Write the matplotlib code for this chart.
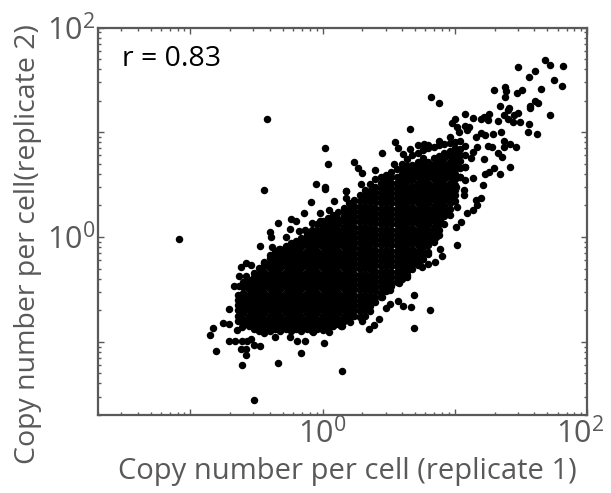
import numpy as np
import matplotlib
matplotlib.use("Agg")
import matplotlib.pyplot as plt
from matplotlib.ticker import LogLocator, NullFormatter
from matplotlib.transforms import ScaledTranslation

plt.rcParams['font.family'] = ['Open Sans', 'DejaVu Sans']
plt.rcParams['mathtext.default'] = 'regular'

# everything is read off the picture, in log10(copy number per cell)
# saturated middle of the cloud: replicate 1 value -> replicate 2 values
core = {
    -.64: [-.80,-.75,-.70,-.65,-.60,-.55],
    -.60: [-.83,-.78,-.73,-.68,-.63,-.58,-.53,-.48,-.43],
    -.56: [-.85,-.80,-.75,-.70,-.65,-.60,-.55,-.50,-.45,-.41],
    -.52: [-.88,-.83,-.78,-.73,-.68,-.63,-.58,-.53,-.48,-.43,-.38],
    -.48: [-.90,-.85,-.80,-.75,-.70,-.65,-.60,-.55,-.50,-.45,-.40,-.35,-.30],
    -.44: [-.88,-.83,-.78,-.73,-.68,-.63,-.58,-.53,-.48,-.43,-.38,-.33,-.28,-.24],
    -.40: [-.90,-.85,-.80,-.75,-.70,-.65,-.60,-.55,-.50,-.45,-.40,-.35,-.30,-.25,-.20,-.17],
    -.36: [-.88,-.83,-.78,-.73,-.68,-.63,-.58,-.53,-.48,-.43,-.38,-.33,-.28,-.23,-.18,-.14],
    -.32: [-.90,-.85,-.80,-.75,-.70,-.65,-.60,-.55,-.50,-.45,-.40,-.35,-.30,-.25,-.20,-.15,-.11],
    -.28: [-.88,-.83,-.78,-.73,-.68,-.63,-.58,-.53,-.48,-.43,-.38,-.33,-.28,-.23,-.18,-.13,-.09],
    -.24: [-.90,-.85,-.80,-.75,-.70,-.65,-.60,-.55,-.50,-.45,-.40,-.35,-.30,-.25,-.20,-.15,-.10,-.06],
    -.20: [-.88,-.83,-.78,-.73,-.68,-.63,-.58,-.53,-.48,-.43,-.38,-.33,-.28,-.23,-.18,-.13,-.08,-.04],
    -.16: [-.90,-.85,-.80,-.75,-.70,-.65,-.60,-.55,-.50,-.45,-.40,-.35,-.30,-.25,-.20,-.15,-.10,-.05,-.01],
    -.12: [-.88,-.83,-.78,-.73,-.68,-.63,-.58,-.53,-.48,-.43,-.38,-.33,-.28,-.23,-.18,-.13,-.08,-.03,.02],
    -.08: [-.90,-.85,-.80,-.75,-.70,-.65,-.60,-.55,-.50,-.45,-.40,-.35,-.30,-.25,-.20,-.15,-.10,-.05,.00,.05,.07],
    -.04: [-.88,-.83,-.78,-.73,-.68,-.63,-.58,-.53,-.48,-.43,-.38,-.33,-.28,-.23,-.18,-.13,-.08,-.03,.02,.07,.12],
    .00: [-.89,-.85,-.80,-.75,-.70,-.65,-.60,-.55,-.50,-.45,-.40,-.35,-.30,-.25,-.20,-.15,-.10,-.05,.00,.05,.10,.15],
    .04: [-.87,-.83,-.78,-.73,-.68,-.63,-.58,-.53,-.48,-.43,-.38,-.33,-.28,-.23,-.18,-.13,-.08,-.03,.02,.07,.12,.18],
    .08: [-.85,-.80,-.75,-.70,-.65,-.60,-.55,-.50,-.45,-.40,-.35,-.30,-.25,-.20,-.15,-.10,-.05,.00,.05,.10,.15,.21],
    .12: [-.83,-.78,-.73,-.68,-.63,-.58,-.53,-.48,-.43,-.38,-.33,-.28,-.23,-.18,-.13,-.08,-.03,.02,.07,.12,.17,.24],
    .16: [-.80,-.75,-.70,-.65,-.60,-.55,-.50,-.45,-.40,-.35,-.30,-.25,-.20,-.15,-.10,-.05,.00,.05,.10,.15,.20,.25,.28],
    .20: [-.78,-.73,-.68,-.63,-.58,-.53,-.48,-.43,-.38,-.33,-.28,-.23,-.18,-.13,-.08,-.03,.02,.07,.12,.17,.22,.27,.32],
    .24: [-.75,-.70,-.65,-.60,-.55,-.50,-.45,-.40,-.35,-.30,-.25,-.20,-.15,-.10,-.05,.00,.05,.10,.15,.20,.25,.30,.35],
    .28: [-.76,-.71,-.66,-.61,-.56,-.51,-.46,-.41,-.36,-.31,-.26,-.21,-.16,-.11,-.06,-.01,.04,.09,.14,.19,.24,.29,.34,.40],
    .32: [-.75,-.70,-.65,-.60,-.55,-.50,-.45,-.40,-.35,-.30,-.25,-.20,-.15,-.10,-.05,.00,.05,.10,.15,.20,.25,.30,.35,.40,.45],
    .36: [-.71,-.66,-.61,-.56,-.51,-.46,-.41,-.36,-.31,-.26,-.21,-.16,-.11,-.06,-.01,.04,.09,.14,.19,.24,.29,.34,.39,.44,.51],
    .40: [-.62,-.57,-.52,-.47,-.42,-.37,-.32,-.27,-.22,-.17,-.12,-.07,-.02,.03,.08,.13,.18,.23,.28,.33,.38,.43,.48,.55],
    .44: [-.57,-.53,-.48,-.43,-.38,-.33,-.28,-.23,-.18,-.13,-.08,-.03,.02,.07,.12,.17,.22,.27,.32,.37,.42,.47,.52,.57],
    .48: [-.52,-.47,-.42,-.37,-.32,-.27,-.22,-.17,-.12,-.07,-.02,.03,.08,.13,.18,.23,.28,.33,.38,.43,.48,.53,.59],
    .52: [-.47,-.43,-.38,-.33,-.28,-.23,-.18,-.13,-.08,-.03,.02,.07,.12,.17,.22,.27,.32,.37,.42,.47,.52,.57,.62],
    .56: [-.43,-.38,-.33,-.28,-.23,-.18,-.13,-.08,-.03,.02,.07,.12,.17,.22,.27,.32,.37,.42,.47,.52,.57,.65],
    .60: [-.40,-.35,-.30,-.25,-.20,-.15,-.10,-.05,.00,.05,.10,.15,.20,.25,.30,.35,.40,.45,.50,.55,.60,.65,.70],
    .64: [-.36,-.32,-.27,-.22,-.17,-.12,-.07,-.02,.03,.08,.13,.18,.23,.28,.33,.38,.43,.48,.53,.58,.63,.68,.74],
    .68: [-.31,-.26,-.21,-.16,-.11,-.06,-.01,.04,.09,.14,.19,.24,.29,.34,.39,.44,.49,.54,.59,.64,.69,.78],
    .72: [-.27,-.23,-.18,-.13,-.08,-.03,.02,.07,.12,.17,.22,.27,.32,.37,.42,.47,.52,.57,.62,.67,.72,.80],
    .76: [-.21,-.15,-.10,-.05,.00,.05,.10,.15,.20,.25,.30,.35,.40,.45,.50,.55,.60,.65,.70,.75,.83],
    .80: [-.14,-.08,-.03,.02,.07,.12,.17,.22,.27,.32,.37,.42,.47,.52,.57,.62,.67,.72,.85],
    .84: [-.05,.00,.05,.10,.15,.20,.25,.30,.35,.40,.45,.50,.55,.60,.65,.70,.75,.86],
    .88: [.02,.07,.12,.17,.22,.27,.32,.37,.42,.47,.52,.57,.62,.67,.72,.77,.88],
    .92: [.12,.20,.25,.30,.35,.40,.45,.50,.55,.60,.65,.70,.75,.80,.89],
    .96: [.21,.27,.32,.37,.42,.47,.52,.57,.62,.67,.72,.77,.82,.90],
    1.00: [.34,.40,.45,.50,.55,.60,.65,.70,.75,.80,.85,.91],
    1.04: [.57,.66,.73,.78,.84,.92],
    1.08: [.67,.78,.87],
}

# single dots that can be told apart around the edge of the cloud
edge_x = [1.68,1.72,1.82,1.48,1.61,1.56,1.75,1.81,1.65,1.51,1.47,1.38,1.39,1.38,1.30,.82,.88,1.61,1.63,1.57,
          1.57,1.34,1.41,1.40,1.48,1.45,1.72,1.37,1.26,1.22,1.08,1.14,1.20,1.25,1.33,1.40,1.44,1.49,1.00,.98,
          1.56,1.55,1.62,.66,1.02,1.08,1.11,1.03,1.09,1.20,1.23,1.29,1.35,1.16,1.37,1.42,1.46,1.25,1.28,1.37,
          1.33,1.36,1.22,1.42,1.30,1.26,1.23,1.34,1.14,1.21,1.08,1.07,1.07,1.20,1.16,1.17,1.14,1.09,1.02,1.05,
          1.01,1.02,.89,.90,.80,.86,.45,.55,.57,.24,.27,.30,.40,.29,.18,.54,.61,.66,.72,.77,
          .80,.88,.96,1.17,1.14,1.12,1.08,1.04,1.01,.97,.94,.89,.87,
          -.42,.02,.04,-.44,-.05,.02,.02,.18,-.09,-.14,.09,-.24,-.20,-.34,-.02,.05,-.18,-.13,-.25,-.40,
          -.39,-.28,-1.09,-.47,-.38,-.33,-.08,-.02,.18,
          -.58,-.54,-.62,-.63,-.58,-.52,-.44,-.67,-.63,-.71,-.75,-.71,-.83,-.85,-.71,-.66,-.61,-.52,-.47,-.57,
          -.81,-.62,-.58,-.58,-.61,-.34,-.16,-.52,.15,-.19,-.13,.01,-.25,-.36,-.44,-.07,.05,.14,-.54,-.65,-.61,
          .85,.80,.75,.74,.69,.57,.61,.67,.81,.69,.51,.48,.43,.35,.39,.30,.21,.15,.58,.51,.45,.64]
edge_y = [1.69,1.64,1.63,1.62,1.58,1.53,1.50,1.44,1.41,1.40,1.37,1.43,1.39,1.34,1.40,1.34,1.28,1.30,1.28,1.25,
          1.23,1.25,1.23,1.21,1.18,1.16,1.16,1.16,1.17,1.15,1.17,1.14,1.13,1.12,1.11,1.13,1.10,1.10,1.13,1.09,
          1.08,1.00,.98,1.03,1.05,1.06,1.05,1.00,1.02,.99,.97,.98,1.00,.95,.92,.89,.86,.87,.86,.86,
          .80,.76,.74,.67,.66,.62,.60,.60,.56,.50,.54,.45,.40,.37,.35,.31,.26,.23,.29,.14,
          .10,-.08,-.11,-.18,-.16,.00,.80,.91,.85,.72,.66,.61,.64,.51,.44,.70,.79,.84,.88,.89,
          .88,.92,.95,.86,.81,.75,.67,.57,.48,.35,.25,.16,.06,
          1.13,.85,.70,.45,.51,.48,.46,.44,.33,.23,.34,.17,.15,.13,.23,.26,.06,.07,.08,.05,
          .00,.00,-.02,-.09,-.10,-.11,.13,.15,.37,
          -.25,-.27,-.29,-.37,-.37,-.34,-.25,-.47,-.47,-.69,-.82,-.83,-.87,-.94,-.99,-.99,-.99,-1.03,-1.04,-.99,
          -1.09,-1.07,-1.07,-1.13,-1.22,-1.20,-1.11,-1.56,-1.28,-.99,-.99,-1.01,-.95,-.95,-.92,-.91,-.91,-.85,-.97,-.89,-.86,
          -.24,-.26,-.29,-.23,-.55,-.61,-.66,-.67,-.70,-.87,-.64,-.68,-.78,-.88,-.84,-.80,-.81,-.85,-.44,-.51,-.57,-.38]

xlog = list(edge_x)
ylog = list(edge_y)
for k in core:
    xlog += [k] * len(core[k])
    ylog += core[k]
x = 10 ** np.array(xlog)
y = 10 ** np.array(ylog)

grey = '#595959'

fig = plt.figure(figsize=(6.11, 4.93), dpi=100)
ax = fig.add_axes([98 / 611, 78 / 493, 489 / 611, 387.5 / 493])
ax.scatter(x, y, s=29, c='black', linewidths=0, zorder=3)

ax.set_xscale('log')
ax.set_yscale('log')
ax.set_xlim(0.02, 100)
ax.set_ylim(0.02, 100)

ax.set_xticks([0.1, 1, 10, 100], ['', '$10^0$', '', '$10^2$'])
ax.set_yticks([0.1, 1, 10, 100], ['', '$10^0$', '', '$10^2$'])
for axis in (ax.xaxis, ax.yaxis):
    axis.set_minor_locator(LogLocator(base=10, subs=range(2, 10), numticks=12))
    axis.set_minor_formatter(NullFormatter())
ax.tick_params(which='major', direction='in', top=True, right=True, length=4.5, width=1,
               color=grey, labelcolor=grey, labelsize=22, pad=2)
ax.tick_params(which='minor', direction='in', top=True, right=True, length=2.5, width=1, color=grey)
for s in ax.spines.values():
    s.set_color(grey)
    s.set_linewidth(1.6)

# the 10^2 under the axis sits a little left of its tick, so it stays on the canvas
last = ax.get_xticklabels()[-1]
last.set_transform(last.get_transform() + ScaledTranslation(-5 / 72, 0, fig.dpi_scale_trans))

ax.set_xlabel('Copy number per cell (replicate 1)', fontsize=21, color=grey)
ax.set_ylabel('Copy number per cell(replicate 2)', fontsize=20.5, color=grey)
ax.xaxis.set_label_coords(0.509, -0.145)
ax.yaxis.set_label_coords(-0.143, 0.44)
ax.xaxis.label.set_va('center')
ax.yaxis.label.set_va('center')

ax.text(0.05, 0.92, 'r = 0.83', transform=ax.transAxes, fontsize=20.5, color='black', va='center')

fig.savefig('out.png', dpi=100)
